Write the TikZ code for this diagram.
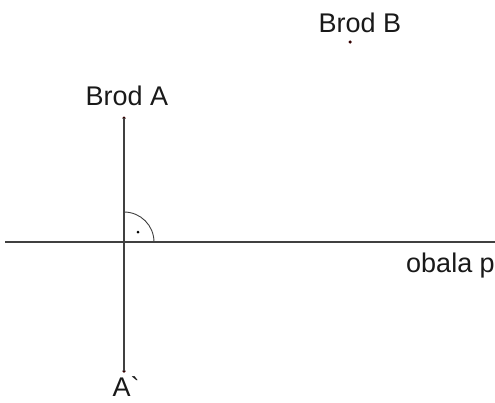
\documentclass[tikz,border=0pt]{standalone}
\usepackage{fontspec}
\setmainfont{Liberation Sans}
\newfontfamily\rawfont{Liberation Sans}
\begin{document}
\begin{tikzpicture}[x=1pt,y=-1pt,
  lbl/.style={font=\fontsize{27}{30}\selectfont, inner sep=0pt, text=black!90},
  ln/.style={draw=black!75, line width=1.1pt},
  pt/.style={circle, fill=black!80!red, inner sep=0pt, minimum size=3.5pt}]
\useasboundingbox (0,0) rectangle (495,402);
\node[pt] (A) at (124,118) {};
\node[pt] (Ap) at (124,371) {};
\node[pt] (B) at (350,42) {};
\coordinate (L) at (5,242);
\coordinate (R) at (495,242);
\coordinate (O) at (124,242);
\draw[ln] (A.center) -- (Ap.center);
\draw[ln] (L) -- (R);
\draw[ln, line width=0.9pt] (124,212) arc[start angle=-90, end angle=0, radius=30];
\node[circle, fill=black, inner sep=0pt, minimum size=3pt] (d) at (138,232) {};
\node[lbl] (tB) at (360,23) {Brod B};
\node[lbl] (tA) at (127,96) {Brod A};
\node[lbl, anchor=base east] (tp) at (495,272) {obala p};
\node[lbl, anchor=base] (tAp) at (126,396) {A{\rawfont\char"60}};
\end{tikzpicture}
\end{document}
